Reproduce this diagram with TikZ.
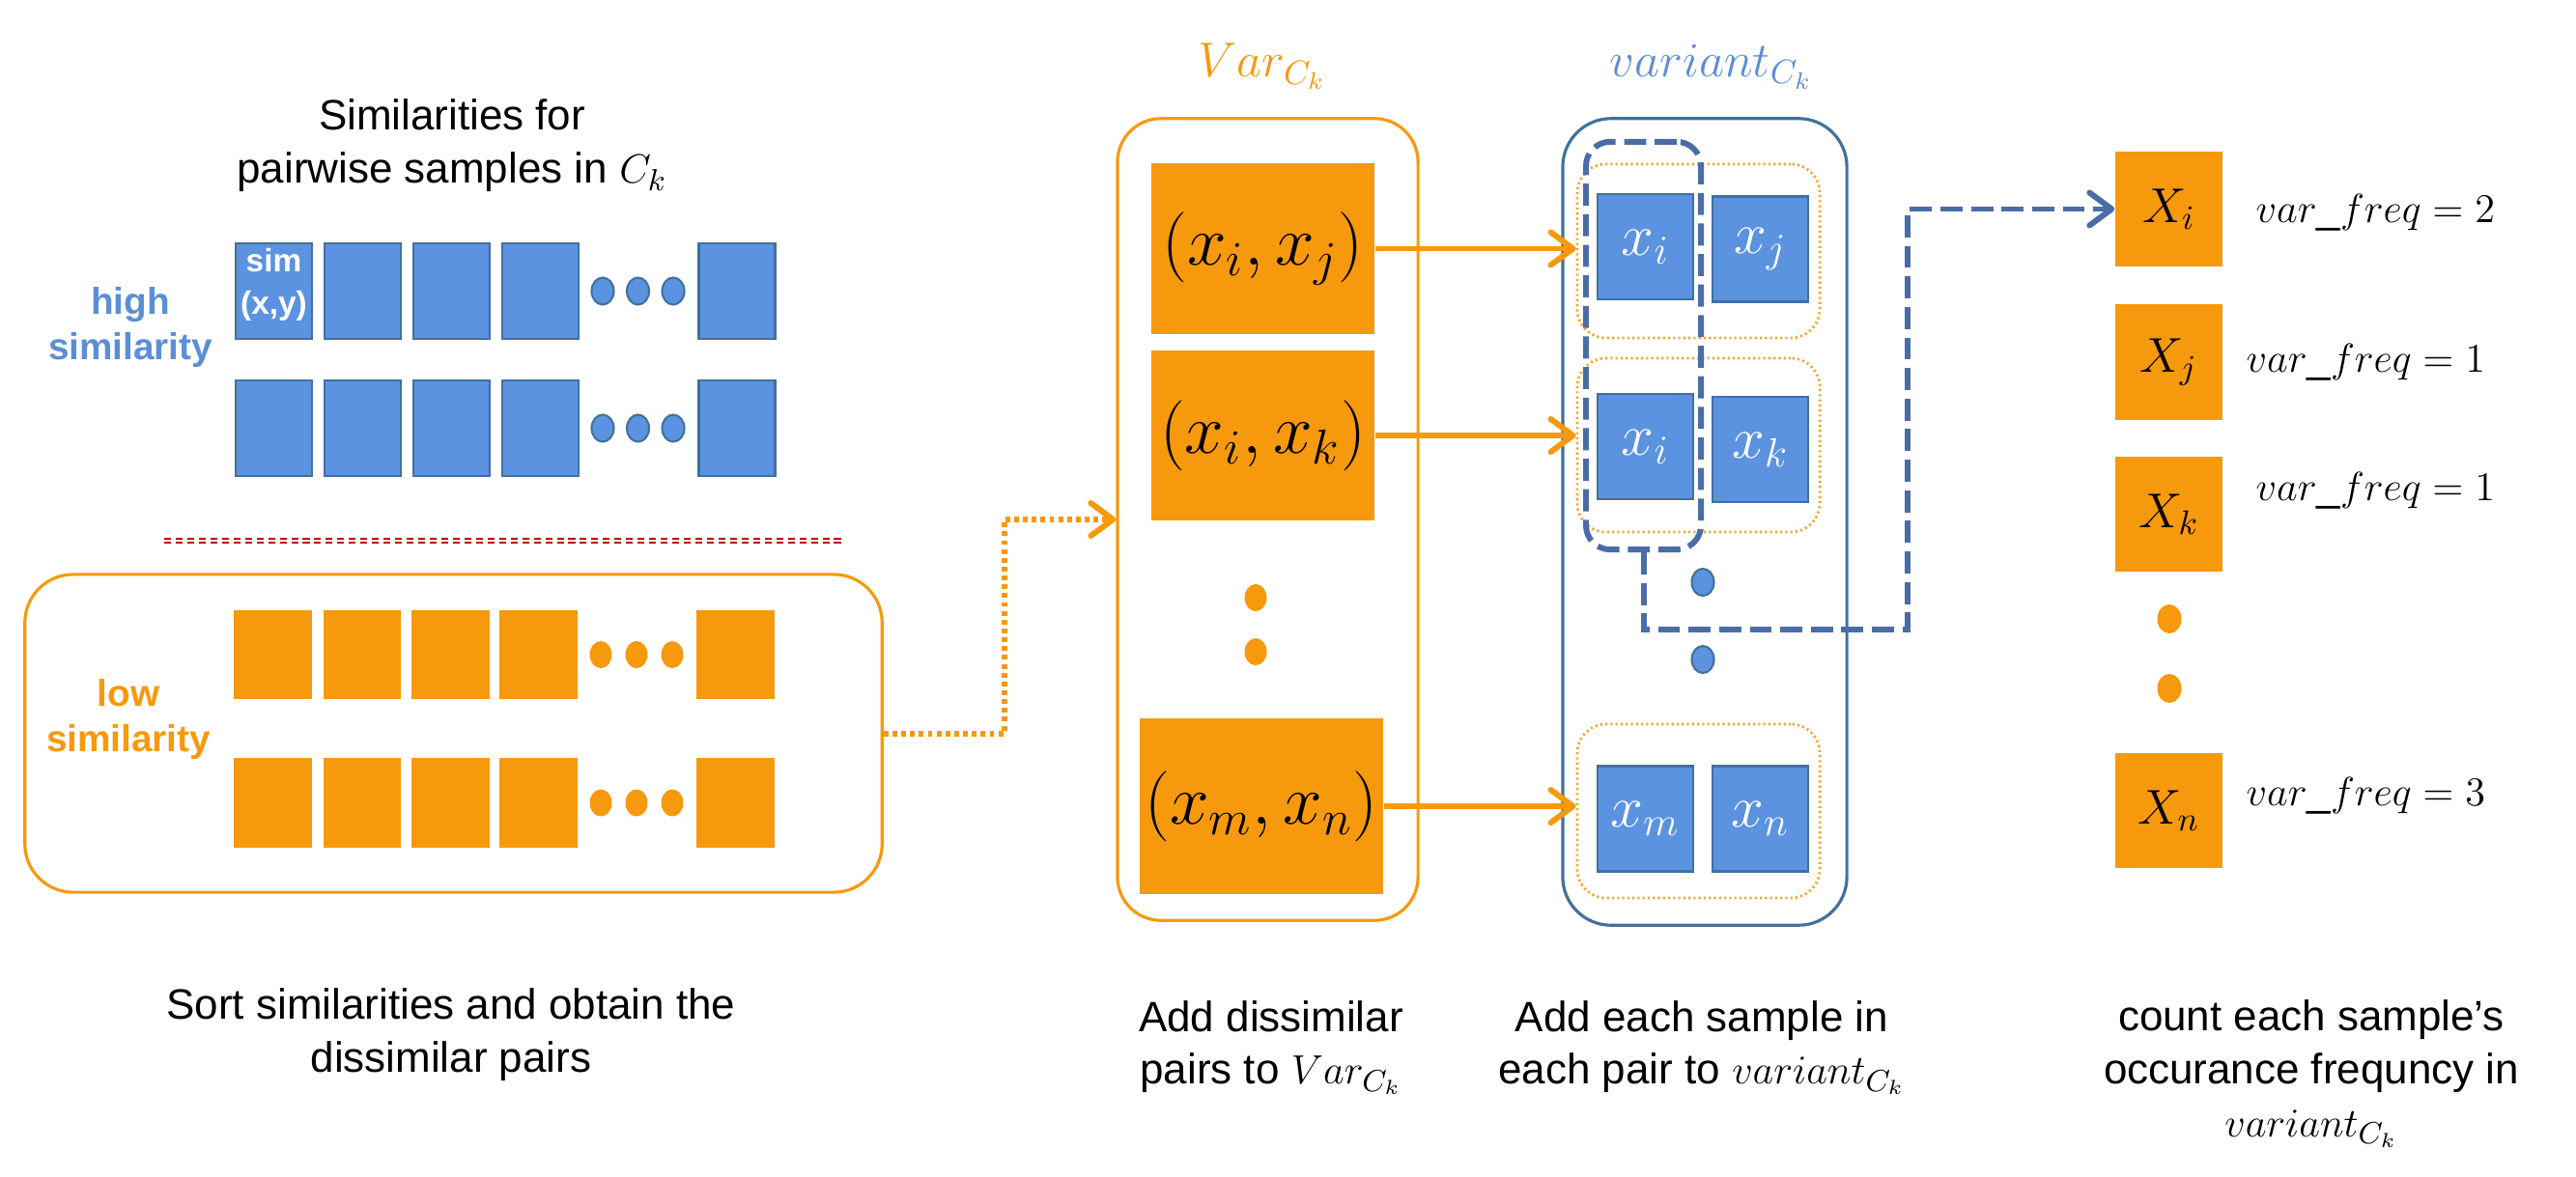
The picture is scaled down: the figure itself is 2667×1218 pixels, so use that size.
\documentclass[tikz,border=0pt]{standalone}
\usepackage{amsmath,amssymb}
\usepackage[no-math]{fontspec}
\setmainfont{Liberation Sans}
\usepackage{tikz}
\usetikzlibrary{arrows.meta,positioning,shapes.geometric}
\definecolor{orng}{HTML}{F7990C}
\definecolor{boxblue}{HTML}{5B93E0}
\definecolor{edgeblue}{HTML}{41719C}
\definecolor{dashblue}{HTML}{4A6DA7}
\definecolor{lblblue}{HTML}{5B8FD5}
\definecolor{sepred}{HTML}{C00000}
\definecolor{grpgold}{HTML}{F2A52A}

\begin{document}
\begin{tikzpicture}[x=0.01cm,y=-0.01cm,
  txt/.style={font=\fontsize{12.5}{15.6}\selectfont,align=center,inner sep=0pt},
  cell/.style={draw=edgeblue,line width=0.6pt,fill=boxblue,minimum width=0.79cm,minimum height=0.99cm,inner sep=0pt},
  ocell/.style={fill=orng,minimum width=0.8cm,minimum height=0.92cm,inner sep=0pt},
  bdot/.style={ellipse,draw=edgeblue,line width=0.6pt,fill=boxblue,minimum width=0.23cm,minimum height=0.28cm,inner sep=0pt},
  odot/.style={ellipse,fill=orng,minimum width=0.23cm,minimum height=0.28cm,inner sep=0pt},
  pairbox/.style={fill=orng,inner sep=0pt,font=\fontsize{20}{24}\selectfont},
  sample/.style={cell,minimum width=0.99cm,minimum height=1.09cm,text=white,font=\fontsize{17}{20}\selectfont},
  grp/.style={draw=grpgold,line width=0.8pt,dash pattern=on 0.6pt off 0.9pt,rounded corners=0.3cm,minimum width=2.51cm,minimum height=1.8cm},
  cnt/.style={fill=orng,minimum width=1.11cm,minimum height=1.19cm,inner sep=0pt,font=\fontsize{14}{16}\selectfont},
  freq/.style={anchor=west,inner sep=0pt,font=\fontsize{12.5}{15}\selectfont},
  arr/.style={-{Straight Barb[length=2.3mm,width=3.4mm,round]},draw=orng,line width=1.7pt},
  dotarr/.style={arr,dash pattern=on 1.4pt off 1.2pt},
  dasharr/.style={-{Straight Barb[length=2.3mm,width=3.4mm,round]},draw=dashblue,line width=1.7pt,dash pattern=on 6.5pt off 2.5pt}]
\useasboundingbox (0,0) rectangle (2667,1218);
% similarity rows
\node[txt] (title) at (468,151) {Similarities for\\pairwise samples in $C_k$};
\node[txt,font=\bfseries\fontsize{11}{13.6}\selectfont,text=lblblue] (high) at (135,339) {high\\similarity};
\foreach \r/\y in {1/301.5,2/443.5}{
  \foreach \i/\x in {1/283.5,2/375.5,3/467.5,4/559.5,5/763} \node[cell] (hi\r\i) at (\x,\y) {};
  \foreach \i/\x in {1/624,2/660.5,3/697} \node[bdot] (hd\r\i) at (\x,\y) {};
}
\node[align=center,text=white,inner sep=0pt,font=\bfseries\fontsize{9.5}{12.5}\selectfont] (simlbl) at (283.5,295) {sim\\(x,y)};
\draw[sepred,line width=0.6pt,double=white,double distance=0.5pt,dash pattern=on 2pt off 1.4pt] (170,560) -- (875,560);
\node[draw=orng,line width=0.9pt,rounded corners=0.5cm,minimum width=8.87cm,minimum height=3.29cm] (lowgrp) at (469.5,759.5) {};
\node[txt,font=\bfseries\fontsize{11}{13.6}\selectfont,text=orng] (low) at (133,745) {low\\similarity};
\foreach \r/\y in {1/678,2/831.5}{
  \foreach \i/\x in {1/282.5,2/375,3/466.5,4/557.5,5/761.5} \node[ocell] (lo\r\i) at (\x,\y) {};
  \foreach \i/\x in {1/622,2/659,3/696} \node[odot] (ld\r\i) at (\x,\y) {};
}
\node[txt] (sortlbl) at (467,1072) {Sort similarities and obtain the\\dissimilar pairs};
% Var_Ck
\node[text=orng,font=\fontsize{14}{16}\selectfont] (varlbl) at (1307,69) {$Var_{C_k}$};
\node[draw=orng,line width=0.9pt,rounded corners=0.45cm,minimum width=3.11cm,minimum height=8.3cm] (var) at (1312.5,538) {};
\node[pairbox,minimum width=2.31cm,minimum height=1.77cm] (pij) at (1307.5,257.5) {$(x_i,x_j)$};
\node[pairbox,minimum width=2.31cm,minimum height=1.76cm] (pik) at (1307.5,451) {$(x_i,x_k)$};
\node[pairbox,minimum width=2.52cm,minimum height=1.82cm] (pmn) at (1306,835) {$(x_m,x_n)$};
\node[odot] (vd1) at (1300,619) {};
\node[odot] (vd2) at (1300,675) {};
\node[txt] (addlbl) at (1316,1085) {Add dissimilar\\pairs to $Var_{C_k}$};
% variant_Ck
\node[text=lblblue,font=\fontsize{14}{16}\selectfont] (vnlbl) at (1772,69) {$variant_{C_k}$};
\node[draw=edgeblue,line width=0.9pt,rounded corners=0.5cm,minimum width=2.94cm,minimum height=8.35cm] (variant) at (1765,540.5) {};
\node[grp] (g1) at (1758.5,260) {};
\node[grp] (g2) at (1758.5,461) {};
\node[grp] (g3) at (1758.5,840) {};
\node[sample] (s1i) at (1703.5,255.5) {$x_i$};
\node[sample] (s1j) at (1822.5,258) {$x_j$};
\node[sample] (s2i) at (1703.5,462.5) {$x_i$};
\node[sample] (s2k) at (1822.5,465.5) {$x_k$};
\node[sample] (s3m) at (1703.5,848) {$x_m$};
\node[sample] (s3n) at (1822.5,848) {$x_n$};
\node[bdot] (ud1) at (1763,603) {};
\node[bdot] (ud2) at (1763,683) {};
\node[draw=dashblue,line width=1.7pt,dash pattern=on 6.5pt off 2.5pt,rounded corners=0.25cm,minimum width=1.19cm,minimum height=4.22cm] (sel) at (1701.5,358) {};
\node[txt] (eachlbl) at (1762,1085) {Add each sample in\\each pair to $variant_{C_k}$};
% counts
\node[cnt] (Xi) at (2245.5,216.5) {$X_i$};
\node[cnt,below=0.38cm of Xi] (Xj) {$X_j$};
\node[cnt,below=0.37cm of Xj] (Xk) {$X_k$};
\node[odot,minimum width=0.25cm,minimum height=0.3cm] (cd1) at (2246,641) {};
\node[odot,minimum width=0.25cm,minimum height=0.3cm] (cd2) at (2246,713) {};
\node[cnt] (Xn) at (2245.5,839.5) {$X_n$};
\node[freq] (fi) at (2335,220) {$var\_freq = 2$};
\node[freq] (fj) at (2325,375) {$var\_freq = 1$};
\node[freq] (fk) at (2335,508) {$var\_freq = 1$};
\node[freq] (fn) at (2325,824) {$var\_freq = 3$};
\node[txt] (cntlbl) at (2393,1112) {count each sample's\\occurance frequncy in\\$variant_{C_k}$};
% connectors
\draw[dotarr] (lowgrp.east) -- ++(125,0) |- (var.west);
\draw[arr] (pij.east) -- (pij.east -| g1.west);
\draw[arr] (pik.east) -- (pik.east -| g2.west);
\draw[arr] (pmn.east) -- (pmn.east -| g3.west);
\coordinate (turn) at (1975,652);
\draw[dasharr] (sel.south) |- (turn) |- (Xi.west);
\end{tikzpicture}
\end{document}
